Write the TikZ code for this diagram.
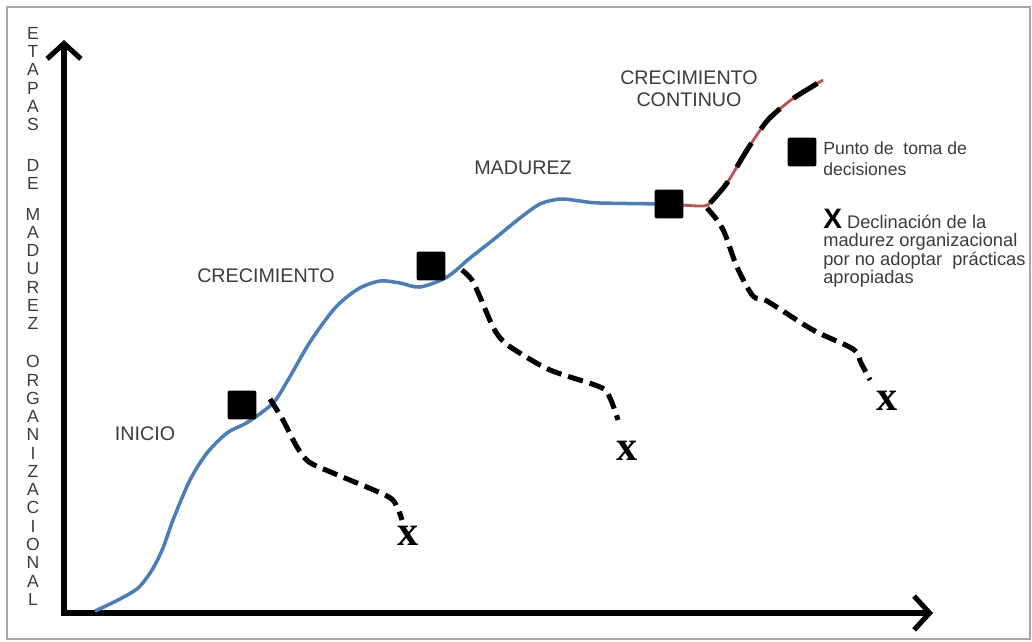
\documentclass[tikz,border=0pt]{standalone}
\usepackage{fontspec}
\setmainfont{Liberation Sans}
\newfontfamily\xserif{Liberation Serif}
\usetikzlibrary{
  positioning,
  arrows.meta,
  calc,
}
\definecolor{frameGray}{HTML}{A6A6A6}
\definecolor{textGray}{HTML}{3C3C3C}
\definecolor{curveBlue}{HTML}{4A7EBB}
\definecolor{curveRed}{HTML}{C0504D}
\tikzset{
  frameline/.style={draw=frameGray, line width=0.8pt},
  axis/.style={
    line width=3.6pt, line join=miter,
    {Straight Barb[length=11pt, width=24pt]}-{Straight Barb[length=11pt, width=24pt]},
  },
  axistext/.style={
    align=center, inner sep=0pt, text=textGray,
    font=\fontsize{12.5}{13}\selectfont,
  },
  stagetext/.style={text=textGray, inner sep=0pt, font=\fontsize{14}{15.6}\selectfont},
  legendtext/.style={text=textGray, inner sep=0pt, align=left},
  decision/.style={
    rectangle, rounded corners=1.5pt, fill=black,
    minimum size=20.5pt, inner sep=0pt,
  },
  endmark/.style={font=\xserif\bfseries\fontsize{30}{30}\selectfont, inner sep=1pt},
  maturity/.style={curveBlue, line width=2.5pt},
  growth/.style={curveRed, line width=2pt},
  decline/.style={line width=3.6pt, dash pattern=on 11pt off 5pt},
  keepup/.style={line width=3.6pt, dash pattern=on 20pt off 12pt},
}

\begin{document}
\begin{tikzpicture}[x=0.025cm, y=-0.025cm]
  \useasboundingbox (0,0) rectangle (1032,641);
  \draw[frameline] (7,7) rectangle (1030,639);

  % Axes
  \coordinate (origin) at (64,613);
  \coordinate (ytip) at (64,40);
  \coordinate (xtip) at (933,613);
  \draw[axis] (ytip) -- (origin) -- (xtip);

  \node[axistext, anchor=north] (ylab) at (33,27)
    {E\\T\\A\\P\\A\\S\\[16pt]D\\E\\[8.5pt]M\\A\\D\\U\\R\\E\\Z\\[14pt]O\\R\\G\\A\\N\\I\\Z\\A\\C\\I\\O\\N\\A\\L};

  % Stages
  \node[stagetext] (inicio) at (145,434) {INICIO};
  \node[stagetext] (crec) at (266,276) {CRECIMIENTO};
  \node[stagetext] (madur) at (523,168) {MADUREZ};
  \node[stagetext, align=center] (cont) at (689,89) {CRECIMIENTO\\CONTINUO};

  % Curve
  \coordinate (c0) at (95,611);
  \coordinate (p1) at (242,405);
  \coordinate (p2) at (431,266);
  \coordinate (p3) at (669,204);
  \coordinate (j3) at (710,203);
  \coordinate (top) at (823,80);
  \draw[maturity] plot[smooth] coordinates {(c0) (118,600) (138,588) (152,570)
    (163,548) (173,520) (190,480) (207,453) (227,433) (248,422) (273,403)
    (288,380) (310,342) (335,308) (358,289) (380,281) (400,283) (420,287)
    (447,277) (470,258) (493,240) (520,218) (540,204) (560,199) (580,201)
    (600,203) (p3)};
  \draw[growth] plot[smooth] coordinates {(p3) (700,206) (j3) (727,183)
    (747,150) (767,121) (787,103) (800,94) (top)};
  \draw[keepup] plot[smooth] coordinates {(j3) (727,183) (747,150) (767,121)
    (787,103) (800,94) (top)};

  % Decline branches
  \coordinate (b1) at (270,399);
  \coordinate (b2) at (462,270);
  \coordinate (b3) at (707,208);
  \coordinate (t1) at (402,520);
  \coordinate (t2) at (618,420);
  \coordinate (t3) at (870,380);
  \draw[decline] plot[smooth] coordinates {(b1) (283,420) (297,447) (309,462)
    (333,473) (387,496) (397,507) (t1)};
  \draw[decline] plot[smooth] coordinates {(b2) (472,280) (480,297) (493,327)
    (502,340) (515,350) (550,370) (600,387) (610,398) (t2)};
  \draw[decline] plot[smooth] coordinates {(b3) (717,220) (725,234) (737,267)
    (753,296) (767,301) (813,330) (853,349) (861,363) (t3)};

  \node[endmark] (x1) at (408,536) {x};
  \node[endmark] (x2) at (627,451) {x};
  \node[endmark] (x3) at (887,401) {x};

  % Decision points
  \node[decision] (m1) at (p1) {};
  \node[decision] (m2) at (p2) {};
  \node[decision] (m3) at (p3) {};

  % Legend
  \node[decision] (legsq) at (802,152) {};
  \node[legendtext, anchor=north west, font=\fontsize{12.5}{15.6}\selectfont] (leg1) at (823,141)
    {Punto de\ \ toma de\\decisiones};
  \node[legendtext, anchor=north west, font=\fontsize{13}{13}\selectfont] (leg2) at (823,209)
    {{\color{black}\fontsize{20}{20}\selectfont\bfseries X} Declinación de la\\madurez organizacional\\por no adoptar\ \ prácticas\\apropiadas};
\end{tikzpicture}
\end{document}
